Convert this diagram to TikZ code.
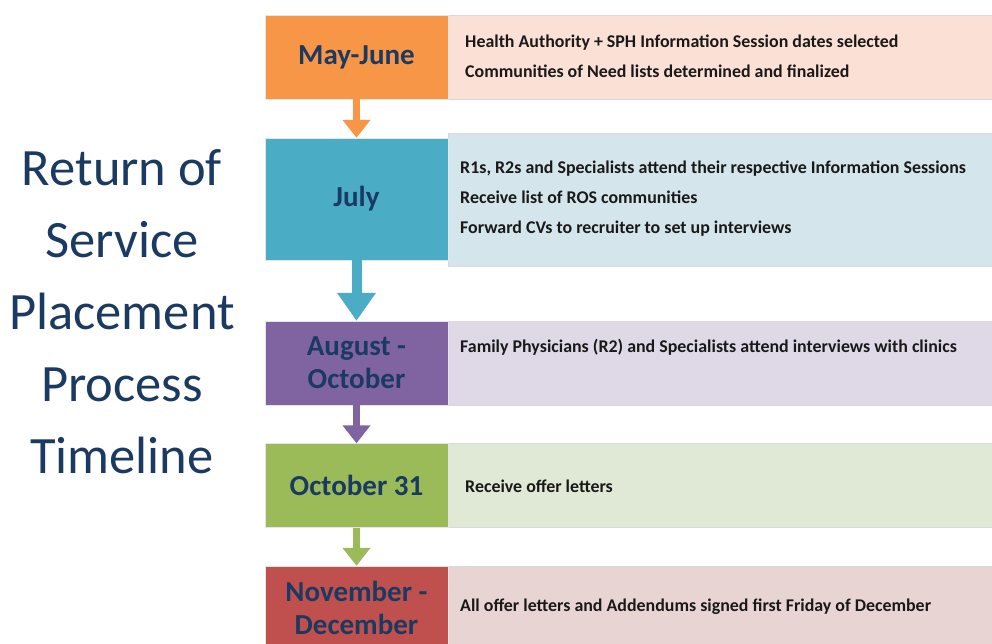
\documentclass[tikz,border=0pt]{standalone}
\usepackage{fontspec}
\setmainfont{Carlito}
\usetikzlibrary{arrows.meta}

\definecolor{mayA}{HTML}{F79646}
\definecolor{mayB}{HTML}{FBE0D6}
\definecolor{julA}{HTML}{4BACC6}
\definecolor{julB}{HTML}{D5E5EC}
\definecolor{augA}{HTML}{8064A2}
\definecolor{augB}{HTML}{DFD8E7}
\definecolor{octA}{HTML}{9BBB59}
\definecolor{octB}{HTML}{E0E8D6}
\definecolor{novA}{HTML}{C0504D}
\definecolor{novB}{HTML}{E9D4D4}
\definecolor{navy}{HTML}{1B3A62}

\begin{document}
\begin{tikzpicture}[x=1pt,y=-1pt]
   \tikzset{stage/.style={draw=black!10, minimum width=183pt, minimum height=84pt,
      inner sep=0pt, align=center, text=navy, font=\bfseries\fontsize{29}{33}\selectfont}}
   \tikzset{detail/.style={draw=black!15, minimum width=544pt, minimum height=84pt, inner sep=0pt}}
   \tikzset{note/.style={anchor=west, align=left, inner sep=0pt, text=black!90,
      font=\bfseries\fontsize{17.9}{30}\selectfont}}
   \tikzset{flow/.style={line width=7pt, -{Triangle[width=27pt,length=18pt]}}}
   \useasboundingbox (0,0) rectangle (992,644);
   \clip (0,0) rectangle (992,644);
   % title
   \node[align=center, text=navy, font=\fontsize{52.5}{72}\selectfont] (title) at (122,312)
      {Return of\\Service\\Placement\\Process\\Timeline};
   % detail boxes
   \node[detail, fill=mayB] (maytxt) at (720,57) {};
   \node[detail, fill=julB, minimum height=133pt] (jultxt) at (720,199.5) {};
   \node[detail, fill=augB] (augtxt) at (720,363) {};
   \node[detail, fill=octB] (octtxt) at (720,485.5) {};
   \node[detail, fill=novB] (novtxt) at (720,608) {};
   % stages
   \node[stage, fill=mayA] (may) at (356.5,57) {May-June};
   \node[stage, fill=julA, minimum height=122pt] (jul) at (356.5,199) {July};
   \node[stage, fill=augA] (aug) at (356.5,363) {August -\\October};
   \node[stage, fill=octA] (oct) at (356.5,485.5) {October 31};
   \node[stage, fill=novA] (nov) at (356.5,608) {November -\\December};
   % notes
   \node[note] (maynote) at (465,56) {Health Authority + SPH Information Session dates selected\\
      Communities of Need lists determined and finalized};
   \node[note] (julnote) at (460,199) {R1s, R2s and Specialists attend their respective Information Sessions\\
      Receive list of ROS communities\\Forward CVs to recruiter to set up interviews};
   \node[note] (augnote) at (460,347) {Family Physicians (R2) and Specialists attend interviews with clinics};
   \node[note] (octnote) at (465,486) {Receive offer letters};
   \node[note] (novnote) at (460,607) {All offer letters and  Addendums signed first Friday of December};
   % arrows
   \draw[flow, mayA] (may) -- (jul);
   \draw[flow, julA, line width=10pt, -{Triangle[width=37pt,length=28pt]}] (jul) -- (aug);
   \draw[flow, augA] (aug) -- (oct);
   \draw[flow, octA] (oct) -- (nov);
\end{tikzpicture}
\end{document}
